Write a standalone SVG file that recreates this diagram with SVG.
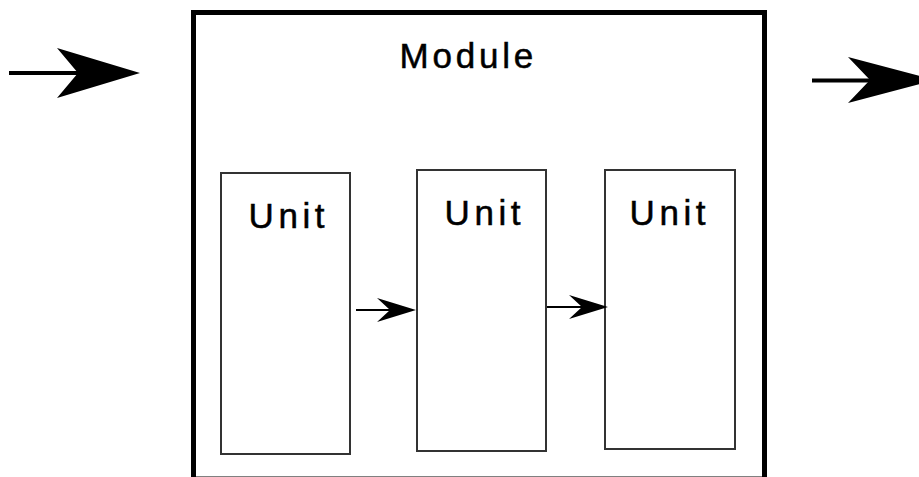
<svg xmlns="http://www.w3.org/2000/svg" width="919" height="477" viewBox="0 0 919 477">
  <style>
    .label { font-family: "Liberation Sans", Arial, sans-serif; font-size: 35px; fill: #000; stroke: #000; stroke-width: 0.5; }
    .unit { fill: #fff; stroke: #333; stroke-width: 2; }
    .module { fill: #fff; stroke: #000; stroke-width: 5; }
    .line { stroke: #000; fill: none; }
    .head { fill: #000; stroke: none; }
  </style>

  <rect width="919" height="477" fill="#fff"/>

  <!-- outer module container -->
  <g id="module">
    <rect class="module" x="193.5" y="12.5" width="571" height="466.5"/>
    <text class="label" x="399.5" y="68" letter-spacing="3.8">Module</text>
  </g>

  <g id="unit1">
    <rect class="unit" x="221" y="173" width="129" height="281"/>
    <text class="label" x="248.5" y="228" letter-spacing="4.6">Unit</text>
  </g>
  <g id="unit2">
    <rect class="unit" x="417" y="170" width="129" height="281"/>
    <text class="label" x="444.5" y="225" letter-spacing="4.6">Unit</text>
  </g>
  <g id="unit3">
    <rect class="unit" x="605" y="170" width="130" height="279"/>
    <text class="label" x="629.5" y="225" letter-spacing="4.6">Unit</text>
  </g>

  <!-- connectors -->
  <g id="connectors">
    <!-- incoming arrow -->
    <line class="line" x1="9" y1="73" x2="85" y2="73" stroke-width="4"/>
    <path class="head" d="M140,73 L57,48 L78,73 L57,98 Z"/>
    <!-- outgoing arrow -->
    <line class="line" x1="812" y1="80.5" x2="875" y2="80.5" stroke-width="4"/>
    <path class="head" d="M935,80 L848,57 L870,80 L848,103 Z"/>
    <!-- unit1 to unit2 -->
    <line class="line" x1="356" y1="310" x2="392" y2="310" stroke-width="2"/>
    <path class="head" d="M416,310 L377,298 L390,310 L377,322 Z"/>
    <!-- unit2 to unit3 -->
    <line class="line" x1="547" y1="307" x2="584" y2="307" stroke-width="2"/>
    <path class="head" d="M608,307 L569,295 L582,307 L569,319 Z"/>
  </g>
</svg>
